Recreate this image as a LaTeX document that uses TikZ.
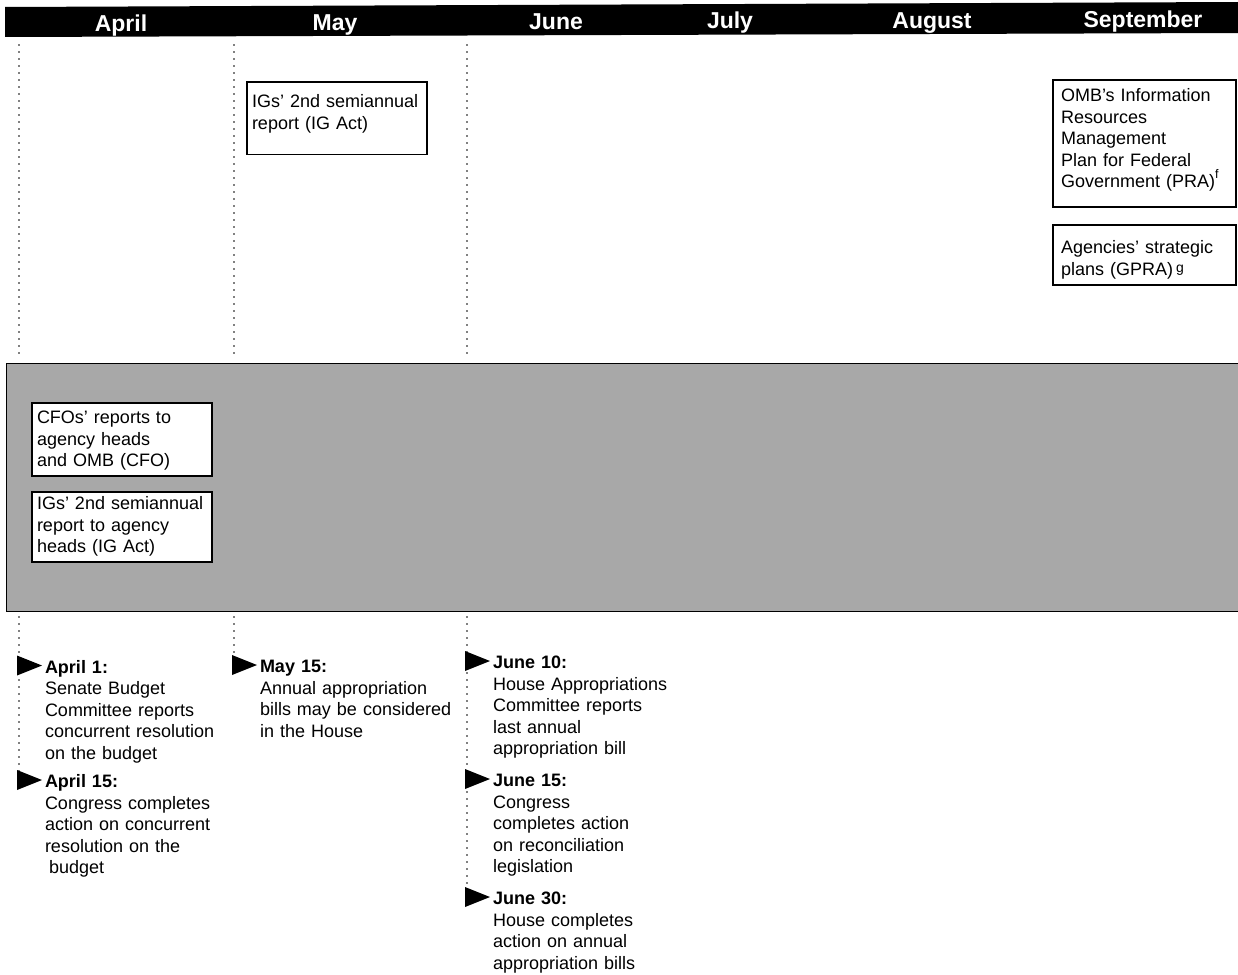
\documentclass[tikz,border=0pt]{standalone}
\usepackage{fontspec}
\setmainfont{Liberation Sans}
\definecolor{bandgray}{gray}{0.66}
\begin{document}
\begin{tikzpicture}[x=1pt,y=-1pt,
  every node/.style={inner sep=0pt, outer sep=0pt},
  month/.style={font=\fontsize{23}{23}\selectfont\bfseries, text=white, anchor=base},
  dotline/.style={line width=1.8pt, dash pattern=on 0pt off 7pt, line cap=round},
  box/.style={draw, line width=1.1pt, fill=white, anchor=north west, align=left,
    inner xsep=5pt, inner ysep=0pt, font=\fontsize{18}{21.5}\selectfont},
  datetxt/.style={anchor=base west, align=left, text width=225pt,
    font=\fontsize{18}{21.5}\selectfont},
  tri/.style={fill=black}
]
\useasboundingbox (0,0) rectangle (1238,974);

% header bar
\fill (5,7) -- (1238,2) -- (1238,33) -- (5,37) -- cycle;
\node[month] (mApr) at (121,31.5) {April};
\node[month] (mMay) at (335,30.6) {May};
\node[month] (mJun) at (556,29.7) {June};
\node[month] (mJul) at (730,29.0) {July};
\node[month] (mAug) at (932,28.2) {August};
\node[month] (mSep) at (1143,27.3) {September};

% dotted month lines
\coordinate (aprT) at (19,45);  \coordinate (aprM) at (19,355);
\coordinate (mayT) at (234,45); \coordinate (mayM) at (234,355);
\coordinate (junT) at (467,45); \coordinate (junM) at (467,355);
\draw[dotline] (aprT) -- (aprM);
\draw[dotline] (mayT) -- (mayM);
\draw[dotline] (junT) -- (junM);

% shaded band
\draw[fill=bandgray, line width=0.8pt] (6,363) rectangle (1238,611);

\coordinate (aprB) at (19,617); \coordinate (aprE) at (19,776);
\coordinate (mayB) at (234,617); \coordinate (mayE) at (234,656);
\coordinate (junB) at (467,617); \coordinate (junE) at (467,886);
\draw[dotline] (aprB) -- (aprE);
\draw[dotline] (mayB) -- (mayE);
\draw[dotline] (junB) -- (junE);

% boxes
\node[box, text width=170pt, text height=25.5pt, text depth=47pt] (igmay) at (247,82)
  {IGs' 2nd semiannual\\report (IG Act)};
\node[box, inner xsep=8pt, text width=167pt, text height=21.5pt, text depth=105.5pt] (omb) at (1053,80)
  {OMB's Information\\Resources\\Management\\Plan for Federal\\Government (PRA)\raisebox{9pt}{\fontsize{12.5}{12.5}\selectfont f}};
\node[box, inner xsep=8pt, text width=167pt, text height=28.5pt, text depth=31.5pt] (gpra) at (1053,225)
  {Agencies' strategic\\plans (GPRA)\,\raisebox{3pt}{\fontsize{14}{14}\selectfont g}};
\node[box, text width=170pt, text height=20.5pt, text depth=52.5pt] (cfo) at (32,403)
  {CFOs' reports to\\agency heads\\and OMB (CFO)};
\node[box, text width=170pt, text height=17.5pt, text depth=52.5pt] (igapr) at (32,492)
  {IGs' 2nd semiannual\\report to agency\\heads (IG Act)};

% date markers
\foreach \x/\y in {17/665.5, 17/780, 232/665, 465/661, 465/779, 465/897}{
  \fill[tri] (\x,\y-10) -- (\x+25,\y) -- (\x,\y+10) -- cycle;
}

\node[datetxt] (apr1) at (45,673)
  {\textbf{April 1:}\\Senate Budget\\Committee reports\\concurrent resolution\\on the budget};
\node[datetxt] (apr15) at (45,787.5)
  {\textbf{April 15:}\\Congress completes\\action on concurrent\\resolution on the\\\hspace*{4pt}budget};
\node[datetxt] (may15) at (260,672.5)
  {\textbf{May 15:}\\Annual appropriation\\bills may be considered\\in the House};
\node[datetxt] (jun10) at (493,668.5)
  {\textbf{June 10:}\\House Appropriations\\Committee reports\\last annual\\appropriation bill};
\node[datetxt] (jun15) at (493,786.5)
  {\textbf{June 15:}\\Congress\\completes action\\on reconciliation\\legislation};
\node[datetxt] (jun30) at (493,904.5)
  {\textbf{June 30:}\\House completes\\action on annual\\appropriation bills};
\end{tikzpicture}
\end{document}
